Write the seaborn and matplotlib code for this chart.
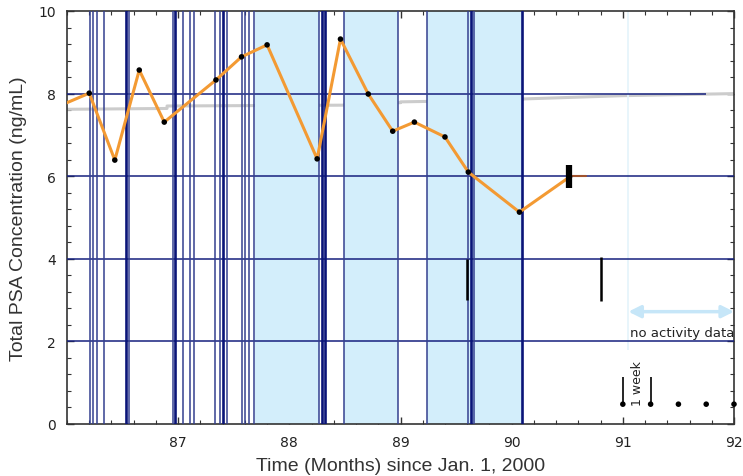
import matplotlib
matplotlib.use("Agg")
import matplotlib.pyplot as plt
import seaborn as sns
import pandas as pd
import numpy as np
from matplotlib.ticker import MultipleLocator

# ---------------- data ----------------
psa_months = [85.8, 86.2, 86.43, 86.65, 86.875, 87.34, 87.57, 87.80, 88.25, 88.46,
              88.71, 88.93, 89.125, 89.40, 89.61, 90.07, 90.52]
psa_values = [7.55, 8.01, 6.39, 8.57, 7.31, 8.33, 8.89, 9.18, 6.42, 9.32,
              7.99, 7.09, 7.31, 6.95, 6.10, 5.13, 5.98]

baseline_months = [86.0, 86.9, 86.9, 88.5, 88.5, 89.0, 89.0, 90.1, 90.1, 91.0, 92.0]
baseline_values = [7.62, 7.64, 7.70, 7.72, 7.74, 7.78, 7.80, 7.85, 7.87, 7.95, 8.00]

shade_starts = [87.69, 88.49, 89.24]
shade_ends = [88.27, 88.975, 90.09]

event_months = [86.21, 86.235, 86.27, 86.33, 86.535, 86.56, 86.95, 86.975, 87.045,
                87.105, 87.14, 87.335, 87.38, 87.405, 87.435, 87.575, 87.605, 87.64,
                87.68, 88.27, 88.295, 88.317, 88.49, 88.975, 89.235, 89.61, 89.63,
                89.665, 90.09]
event_bold = [False, False, False, False, True, False, False, True, False,
              False, False, False, False, True, False, False, False, False,
              False, False, True, True, False, False, False, False, True,
              False, True]

grid_levels = [2, 4, 6, 8]
grid_ends = [92.0, 92.0, 92.0, 91.75]

marker_bars_x = [89.6, 90.8]
marker_bars_lo = [3.0, 2.98]
marker_bars_hi = [4.0, 4.04]

err_x = 90.52
err_lo, err_hi = 5.72, 6.28
tail_x = [90.52, 90.67]
tail_y = [6.0, 6.0]

week_dots_x = [91.0, 91.25, 91.5, 91.75, 92.0]
week_dots_y = [0.48, 0.48, 0.48, 0.48, 0.48]

xticks = [87, 88, 89, 90, 91, 92]
yticks = [0, 2, 4, 6, 8, 10]

# ---------------- style ----------------
sns.set_theme(style="white")
plt.rcParams["font.family"] = ["Liberation Sans", "DejaVu Sans"]

navy = "#16217f"
fig = plt.figure(figsize=(7.43, 4.77), dpi=100)
ax = fig.add_axes([67 / 743, 1 - 425 / 477, 667 / 743, 413 / 477])

ax.set_xlim(86, 92)
ax.set_ylim(0, 10)

# baseline (gray) under shading
sns.lineplot(x=baseline_months, y=baseline_values, ax=ax, color="#cccccc",
             linewidth=2.2, zorder=1, estimator=None, sort=False)

for s, e in zip(shade_starts, shade_ends):
    ax.axvspan(s, e, color="#d3eefb", zorder=2, lw=0)

for lvl, xe in zip(grid_levels, grid_ends):
    ax.hlines(lvl, 86, xe, color=navy, lw=1.1, zorder=3)

for m, b in zip(event_months, event_bold):
    ax.axvline(m, color="#0a1478" if b else "#34408f", lw=1.9 if b else 1.1, zorder=3)

# light-blue limit line & arrow
ax.vlines(91.05, 1.8, 10, color="#e4f3fb", lw=1.2, zorder=2)
ax.annotate("", xy=(91.05, 2.72), xytext=(92.0, 2.72),
            arrowprops=dict(arrowstyle="<|-|>", color="#c6e6f8", lw=2.5,
                            mutation_scale=18, shrinkA=0, shrinkB=0), zorder=4)
ax.text(91.53, 2.22, "no activity data", ha="center", va="center", fontsize=9.5,
        family=["DejaVu Sans", "Liberation Sans"], color="#222222", zorder=5)

df = pd.DataFrame({"month": psa_months, "psa": psa_values})
sns.lineplot(data=df, x="month", y="psa", ax=ax, color="#f39a33", linewidth=2.2,
             zorder=5, estimator=None, sort=False)
sns.scatterplot(data=df, x="month", y="psa", ax=ax, color="black", s=16,
                edgecolor="none", zorder=6)

ax.plot(tail_x, tail_y, color="#a0522d", lw=1.5, zorder=5)
ax.vlines(err_x, err_lo, err_hi, color="black", lw=4.5, zorder=7)

ax.vlines(marker_bars_x, marker_bars_lo, marker_bars_hi, color="black", lw=1.8, zorder=6)

sns.scatterplot(x=week_dots_x, y=week_dots_y, ax=ax, color="black", s=16,
                edgecolor="none", zorder=6, clip_on=False)
ax.vlines(week_dots_x[:2], [0.48, 0.48], [1.14, 1.14], color="black", lw=1.2, zorder=6)
ax.text(91.135, 1.0, "1 week", rotation=90, ha="center", va="center", fontsize=9,
        family=["DejaVu Sans", "Liberation Sans"], color="#222222", zorder=6)

# ---------------- axes ----------------
ax.set_xticks(xticks)
ax.set_yticks(yticks)
ax.xaxis.set_minor_locator(MultipleLocator(0.2))
ax.yaxis.set_minor_locator(MultipleLocator(0.4))
ax.tick_params(which="both", direction="in", top=True, right=True, bottom=True, left=True,
               colors="#333333", labelcolor="#222222")
ax.tick_params(which="major", length=5, width=1, labelsize=10, pad=8)
ax.tick_params(which="minor", length=3, width=0.8)
for lab in ax.get_xticklabels() + ax.get_yticklabels():
    lab.set_family(["DejaVu Sans", "Liberation Sans"])
for sp in ax.spines.values():
    sp.set_color("#333333")
    sp.set_linewidth(1.2)
ax.set_xlabel("Time (Months) since Jan. 1, 2000", fontsize=14, color="#333333", labelpad=6)
ax.set_ylabel("Total PSA Concentration (ng/mL)", fontsize=14, color="#333333", labelpad=8)

fig.savefig("out.png", dpi=100)
